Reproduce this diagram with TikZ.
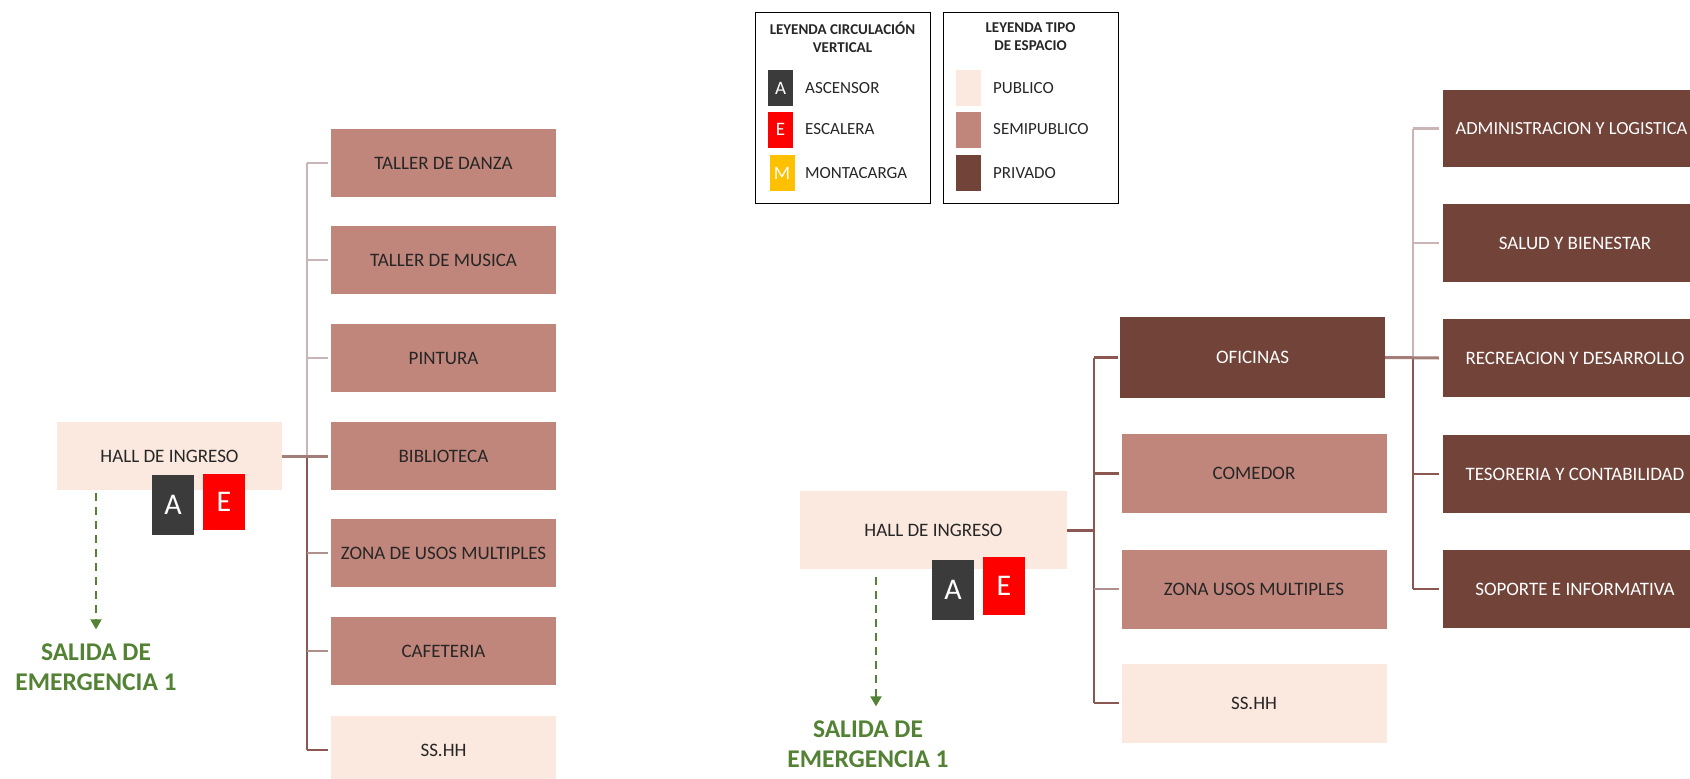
\documentclass[tikz,border=0pt]{standalone}
\usepackage{fontspec}
\setmainfont{Carlito}
\usetikzlibrary{arrows.meta}
\definecolor{publico}{HTML}{FBE8DE}
\definecolor{semipublico}{HTML}{C0867B}
\definecolor{privado}{HTML}{724339}
\definecolor{ascensor}{HTML}{3B3B3B}
\definecolor{escalera}{HTML}{FF0000}
\definecolor{montacarga}{HTML}{FFC000}
\definecolor{verde}{HTML}{548235}
\definecolor{texto}{HTML}{262626}
\definecolor{ramaclara}{HTML}{C9B5B5}
\definecolor{ramaoscura}{HTML}{8A5850}
\tikzset{
    espacio/.style={minimum width=225pt,minimum height=68pt,inner sep=0pt,font=\fontsize{19}{21}\selectfont},
    espaciogrande/.style={espacio,minimum width=265pt,minimum height=79pt},
    publ/.style={fill=publico,text=texto},
    semi/.style={fill=semipublico,text=texto},
    priv/.style={fill=privado,text=white},
    circul/.style={minimum width=42pt,minimum height=58pt,inner sep=0pt,text=white,font=\fontsize{30}{30}\selectfont},
    muestra/.style={minimum width=25pt,minimum height=36pt,inner sep=0pt,text=white,font=\fontsize{19}{19}\selectfont},
    leyenda/.style={anchor=west,inner sep=0pt,text=texto,font=\fontsize{17}{20}\selectfont},
    titulo/.style={align=center,inner sep=0pt,text=texto,font=\bfseries\fontsize{15}{18}\selectfont},
    rama/.style={line width=2.2pt,draw=ramaclara},
    ramaosc/.style={line width=2.2pt,draw=ramaoscura},
    salida/.style={line width=2pt,draw=verde,dash pattern=on 8pt off 6pt,-{Triangle[width=11pt,length=10pt]}},
    emergencia/.style={align=center,inner sep=0pt,text=verde,font=\bfseries\fontsize{25.5}{30}\selectfont}
}
\begin{document}
\begin{tikzpicture}[x=1pt,y=-1pt]
        \useasboundingbox (0,0) rectangle (1690,779);

        \node [draw,line width=1pt,minimum width=175pt,minimum height=191pt](leyc)at(842.5,107.5){};
        \node [draw,line width=1pt,minimum width=175pt,minimum height=191pt](leyt)at(1030.5,107.5){};
        \node [titulo](titc)at(842.5,37){LEYENDA CIRCULACIÓN\\VERTICAL};
        \node [titulo](titt)at(1030.5,37){LEYENDA TIPO\\DE ESPACIO};
        \node [muestra,fill=ascensor](ma)at(780.5,88){A};
        \node [muestra,fill=escalera](me)at(780.5,129.5){E};
        \node [muestra,fill=montacarga](mm)at(782,173){M};
        \node [leyenda](la)at(805,88){ASCENSOR};
        \node [leyenda](le)at(805,129.5){ESCALERA};
        \node [leyenda](lm)at(805,173){MONTACARGA};
        \node [muestra,publ](mpu)at(968,88){};
        \node [muestra,semi](mse)at(968,129.5){};
        \node [muestra,priv](mpr)at(968,173){};
        \node [leyenda](lpu)at(993,88){PUBLICO};
        \node [leyenda](lse)at(993,129.5){SEMIPUBLICO};
        \node [leyenda](lpr)at(993,173){PRIVADO};

        \node [espacio,publ](hall1)at(169.5,456){HALL DE INGRESO};
        \node [espacio,semi](danza)at(443.5,163){TALLER DE DANZA};
        \node [espacio,semi](musica)at(443.5,260){TALLER DE MUSICA};
        \node [espacio,semi](pintura)at(443.5,358){PINTURA};
        \node [espacio,semi](biblio)at(443.5,456){BIBLIOTECA};
        \node [espacio,semi](usos1)at(443.5,553){ZONA DE USOS MULTIPLES};
        \node [espacio,semi](cafe)at(443.5,651){CAFETERIA};
        \node [espacio,publ](sshh1)at(443.5,750){SS.HH};
        \node [circul,fill=ascensor,minimum height=60pt](asc1)at(173,505){A};
        \node [circul,fill=escalera,minimum height=56pt](esc1)at(224,502){E};
        \node [emergencia](sal1)at(96,667){SALIDA DE\\EMERGENCIA 1};
        \coordinate (tr1) at (307,0);
        \coordinate (s1) at (96,493);

        \draw [rama] (danza.west -| tr1) -- (biblio.west -| tr1);
        \draw [ramaosc] (biblio.west -| tr1) -- (sshh1.west -| tr1);
        \draw [rama] (danza.west -| tr1) -- ([xshift=-3pt]danza.west);
        \draw [rama] (musica.west -| tr1) -- ([xshift=-3pt]musica.west);
        \draw [rama] (pintura.west -| tr1) -- ([xshift=-3pt]pintura.west);
        \draw [rama,draw=ramaoscura!60!ramaclara,line width=3pt] (hall1.east) -- ([xshift=-3pt]biblio.west);
        \draw [rama,draw=ramaoscura!40!ramaclara] (usos1.west -| tr1) -- ([xshift=-3pt]usos1.west);
        \draw [rama,draw=ramaoscura!40!ramaclara] (cafe.west -| tr1) -- ([xshift=-3pt]cafe.west);
        \draw [ramaosc] (sshh1.west -| tr1) -- ([xshift=-3pt]sshh1.west);
        \draw [salida,shorten >=14pt] (s1) -- (s1 |- sal1.north);

        \node [espaciogrande,publ,minimum width=267pt,minimum height=78pt](hall2)at(933.5,530){HALL DE INGRESO};
        \node [espaciogrande,priv,minimum height=81pt](ofi)at(1252.5,357.5){OFICINAS};
        \node [espaciogrande,semi](comedor)at(1254,473.5){COMEDOR};
        \node [espaciogrande,semi](usos2)at(1254,589){ZONA USOS MULTIPLES};
        \node [espaciogrande,publ](sshh2)at(1254,703){SS.HH};
        \node [espaciogrande,priv,minimum width=264pt,minimum height=77pt,font=\fontsize{18.5}{21}\selectfont](admin)at(1575,128.5){ADMINISTRACION Y LOGISTICA\hspace*{7pt}};
        \node [espaciogrande,priv,minimum width=264pt,minimum height=78pt](salud)at(1575,243){SALUD Y BIENESTAR};
        \node [espaciogrande,priv,minimum width=264pt,minimum height=78pt](recre)at(1575,358){RECREACION Y DESARROLLO};
        \node [espaciogrande,priv,minimum width=264pt,minimum height=78pt](teso)at(1575,474){TESORERIA Y CONTABILIDAD};
        \node [espaciogrande,priv,minimum width=264pt,minimum height=78pt](soporte)at(1575,589){SOPORTE E INFORMATIVA};
        \node [circul,fill=ascensor,minimum height=60pt](asc2)at(953,590){A};
        \node [circul,fill=escalera,minimum height=58pt](esc2)at(1004,586){E};
        \node [emergencia](sal2)at(868,744){SALIDA DE\\EMERGENCIA 1};
        \coordinate (tr2) at (1094,0);
        \coordinate (tr3) at (1413,0);
        \coordinate (s2) at (876,577);

        \draw [ramaosc] (ofi.west -| tr2) -- (sshh2.west -| tr2);
        \draw [ramaosc,line width=3pt] (hall2.east) -- (hall2.east -| tr2);
        \draw [ramaosc] (ofi.west -| tr2) -- ([xshift=-2pt]ofi.west);
        \draw [ramaosc] (comedor.west -| tr2) -- ([xshift=-2pt]comedor.west);
        \draw [rama,draw=ramaoscura!40!ramaclara] (usos2.west -| tr2) -- ([xshift=-2pt]usos2.west);
        \draw [ramaosc] (sshh2.west -| tr2) -- ([xshift=-2pt]sshh2.west);
        \draw [salida,shorten >=14pt] (s2) -- (s2 |- sal2.north);

        \draw [rama] (admin.west -| tr3) -- (recre.west -| tr3);
        \draw [ramaosc] (recre.west -| tr3) -- (soporte.west -| tr3);
        \draw [rama] (admin.west -| tr3) -- ([xshift=-4pt]admin.west);
        \draw [rama] (salud.west -| tr3) -- ([xshift=-4pt]salud.west);
        \draw [rama,draw=ramaoscura!60!ramaclara,line width=3pt] (ofi.east) -- ([xshift=-4pt]recre.west);
        \draw [ramaosc] (teso.west -| tr3) -- ([xshift=-4pt]teso.west);
        \draw [ramaosc] (soporte.west -| tr3) -- ([xshift=-4pt]soporte.west);
\end{tikzpicture}
\end{document}
